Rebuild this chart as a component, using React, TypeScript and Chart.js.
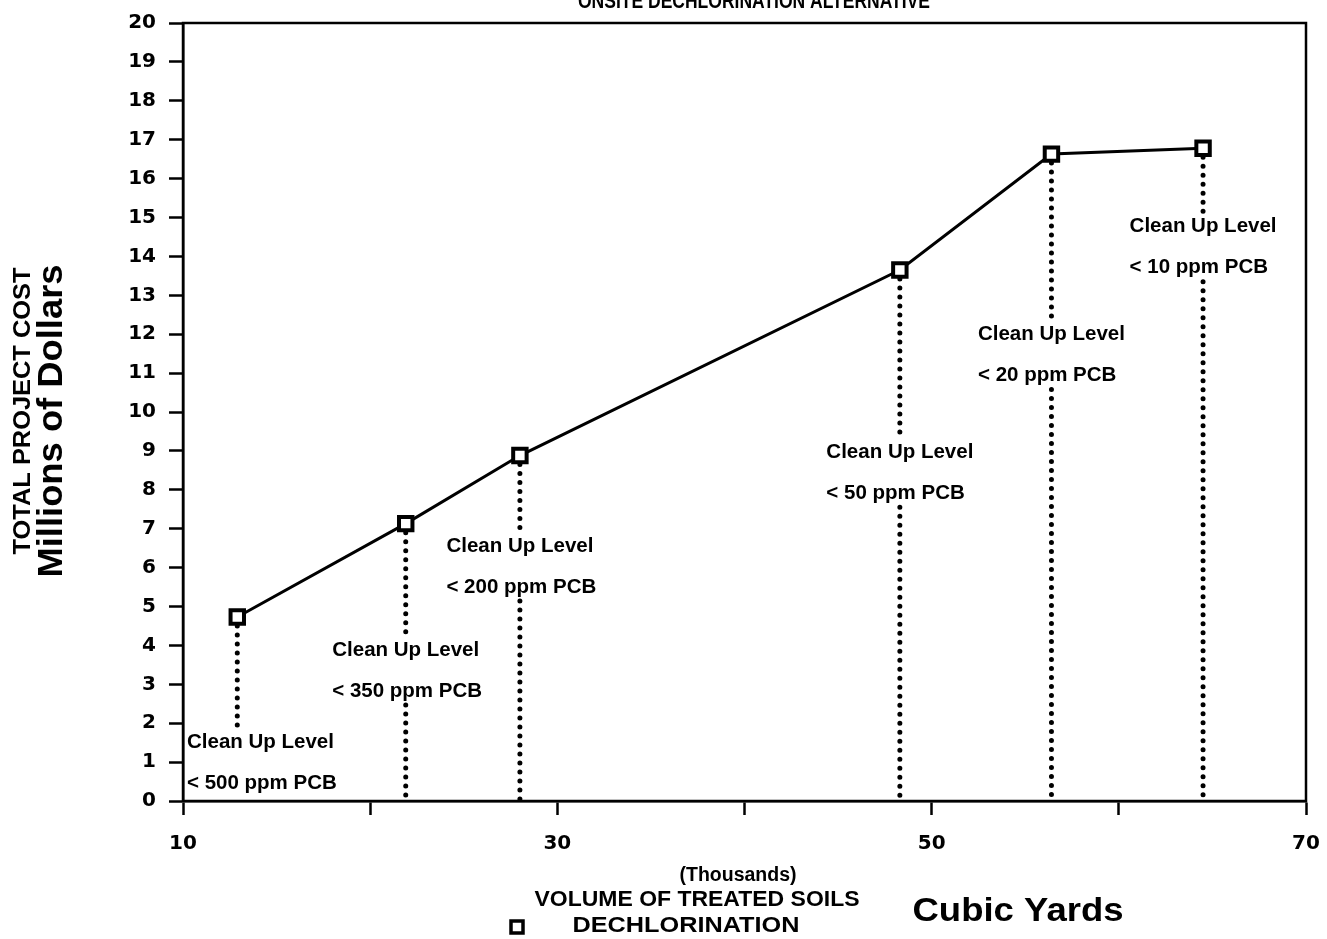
import React, { useEffect, useRef } from "react";
import { Chart, registerables } from "chart.js";

Chart.register(...registerables);

// ---- data ----
const volumes = [12.9, 21.9, 28.0, 48.3, 56.4, 64.5]; // thousands of cubic yards
const costs = [4.73, 7.13, 8.88, 13.65, 16.63, 16.78]; // millions of dollars
const cleanupLevels = [
  "< 500 ppm PCB",
  "< 350 ppm PCB",
  "< 200 ppm PCB",
  "< 50 ppm PCB",
  "< 20 ppm PCB",
  "< 10 ppm PCB",
];
const labelHeights = [1.51, 3.88, 6.55, 8.96, 11.99, 14.76]; // y value of "Clean Up Level" text
const xTicks = [10, 20, 30, 40, 50, 60, 70];
const xTickLabels = ["10", "", "30", "", "50", "", "70"];
const yMin = 0;
const yMax = 20;

const LINE2 = 1.05;
const GAP_ABOVE = 0.4;
const GAP_BELOW = 0.36;

const SANS = "'Liberation Sans', Arial, Helvetica, sans-serif";

function drawFit(
  ctx: CanvasRenderingContext2D,
  text: string,
  cx: number,
  cy: number,
  font: string,
  width: number,
  rotate = 0
) {
  ctx.save();
  ctx.font = font;
  const w = ctx.measureText(text).width;
  ctx.translate(cx, cy);
  if (rotate) ctx.rotate(rotate);
  ctx.scale(width / w, 1);
  ctx.textAlign = "center";
  ctx.fillText(text, 0, 0);
  ctx.restore();
}

const textPlugin = {
  id: "textPlugin",
  afterDraw(chart: any) {
    const ctx: CanvasRenderingContext2D = chart.ctx;
    const xs = chart.scales.x;
    const ys = chart.scales.y;
    const area = chart.chartArea;
    ctx.save();
    // frame
    ctx.strokeStyle = "#000";
    ctx.lineWidth = 2.5;
    ctx.strokeRect(area.left, area.top, area.right - area.left, area.bottom - area.top);

    ctx.fillStyle = "#000";
    // clean-up level annotations
    ctx.font = `bold 20.5px ${SANS}`;
    ctx.textBaseline = "middle";
    ctx.textAlign = "left";
    volumes.forEach((v, i) => {
      const px = xs.getPixelForValue(v);
      const w1 = ctx.measureText("Clean Up Level").width;
      const left = Math.max(area.left + 4, px - w1 / 2);
      const y1 = ys.getPixelForValue(labelHeights[i]);
      const y2 = ys.getPixelForValue(labelHeights[i] - LINE2);
      ctx.fillText("Clean Up Level", left, y1);
      ctx.fillText(cleanupLevels[i], left, y2);
    });

    // title (cut at top)
    ctx.textBaseline = "alphabetic";
    drawFit(ctx, "ONSITE DECHLORINATION ALTERNATIVE", 754, 8, `bold 22px ${SANS}`, 352);

    // y axis titles
    ctx.textBaseline = "middle";
    drawFit(ctx, "TOTAL PROJECT COST", 24, 411, `bold 23px ${SANS}`, 287, -Math.PI / 2);
    drawFit(ctx, "Millions of Dollars", 52, 421, `bold 35px ${SANS}`, 313, -Math.PI / 2);

    // x axis titles
    drawFit(ctx, "(Thousands)", 738, 875, `bold 20px ${SANS}`, 117);
    drawFit(ctx, "VOLUME OF TREATED SOILS", 697, 900, `bold 22px ${SANS}`, 325);
    drawFit(ctx, "DECHLORINATION", 686, 926, `bold 22px ${SANS}`, 227);
    drawFit(ctx, "Cubic Yards", 1018, 912, `bold 34px ${SANS}`, 211);

    // legend marker
    ctx.lineWidth = 3.5;
    ctx.strokeRect(511, 921, 12, 12);
    ctx.restore();
  },
};

export default function App() {
  const ref = useRef<HTMLCanvasElement | null>(null);

  useEffect(() => {
    if (!ref.current) return;
    const dotted: any[] = [];
    volumes.forEach((v, i) => {
      dotted.push({
        data: [
          { x: v, y: costs[i] },
          { x: v, y: labelHeights[i] + GAP_ABOVE },
        ],
      });
      const lowerTop = labelHeights[i] - LINE2 - GAP_BELOW;
      if (lowerTop > 0.3) {
        dotted.push({
          data: [
            { x: v, y: lowerTop },
            { x: v, y: 0 },
          ],
        });
      }
    });

    const chart = new Chart(ref.current, {
      type: "scatter",
      data: {
        datasets: [
          {
            label: "DECHLORINATION",
            data: volumes.map((v, i) => ({ x: v, y: costs[i] })),
            showLine: true,
            borderColor: "#000",
            borderWidth: 3,
            pointStyle: "rect",
            pointRadius: 9.5,
            pointBorderWidth: 4,
            pointBorderColor: "#000",
            pointBackgroundColor: "#fff",
            order: 0,
          } as any,
          ...dotted.map((d) => ({
            data: d.data,
            showLine: true,
            borderColor: "#000",
            borderWidth: 5,
            borderDash: [0, 9],
            borderCapStyle: "round",
            pointRadius: 0,
            order: 1,
          })),
        ],
      },
      options: {
        animation: false,
        responsive: false,
        maintainAspectRatio: false,
        layout: { padding: { top: 23, right: 21, left: 0, bottom: 0 } },
        plugins: {
          legend: { display: false },
          tooltip: { enabled: false },
          title: { display: false },
        },
        scales: {
          x: {
            type: "linear",
            min: xTicks[0],
            max: xTicks[xTicks.length - 1],
            afterBuildTicks: (s: any) => {
              s.ticks = xTicks.map((v) => ({ value: v }));
            },
            afterFit: (s: any) => {
              s.height = 138;
              s.paddingLeft = 0;
              s.paddingRight = 0;
            },
            grid: {
              drawOnChartArea: false,
              drawTicks: true,
              tickLength: 14,
              tickWidth: 2.5,
              tickColor: "#000",
            },
            border: { display: true, color: "#000", width: 2.5 },
            ticks: {
              autoSkip: false,
              maxRotation: 0,
              padding: 17,
              color: "#000",
              font: { family: "'DejaVu Sans', sans-serif", weight: "bold", size: 20 },
              callback: (value: any) => {
                const idx = xTicks.indexOf(Number(value));
                return idx >= 0 ? xTickLabels[idx] : "";
              },
            },
          },
          y: {
            type: "linear",
            min: yMin,
            max: yMax,
            afterFit: (s: any) => {
              s.width = 183;
              s.paddingTop = 0;
              s.paddingBottom = 0;
            },
            grid: {
              drawOnChartArea: false,
              drawTicks: true,
              tickLength: 14,
              tickWidth: 2.5,
              tickColor: "#000",
            },
            border: { display: true, color: "#000", width: 2.5 },
            ticks: {
              stepSize: 1,
              autoSkip: false,
              padding: 13,
              color: "#000",
              font: { family: "'DejaVu Sans', sans-serif", weight: "bold", size: 20 },
            },
          },
        },
      } as any,
      plugins: [textPlugin],
    });
    return () => chart.destroy();
  }, []);

  return (
    <div style={{ position: "absolute", left: 0, top: 0, width: 1327, height: 939, background: "#fff" }}>
      <canvas ref={ref} width={1327} height={939} style={{ display: "block" }} />
    </div>
  );
}
